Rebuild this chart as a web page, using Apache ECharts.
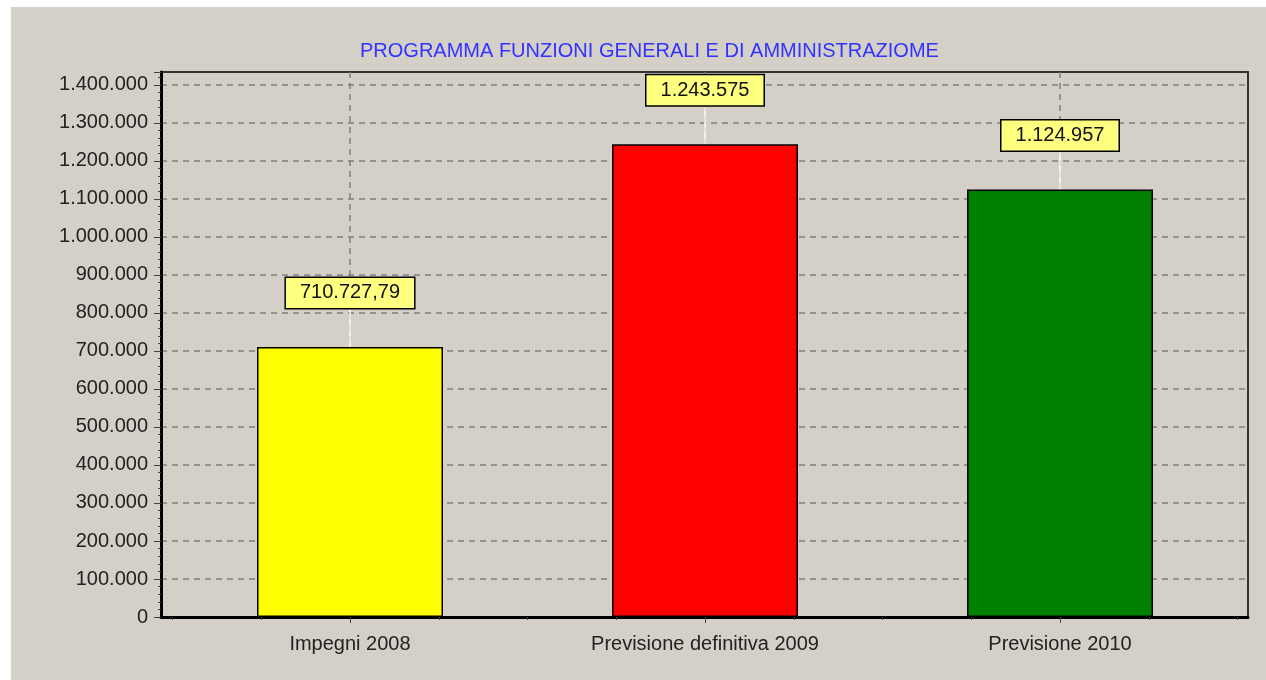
<!DOCTYPE html>
<html>
<head>
<meta charset="utf-8">
<title>Programma funzioni generali</title>
<script src="https://cdn.jsdelivr.net/npm/echarts@6/dist/echarts.min.js"></script>
<style>
  html, body { margin: 0; padding: 0; background: #fff; }
  #chart { width: 1266px; height: 680px; }
</style>
</head>
<body>
<div id="chart"></div>
<script>
// dati
var categories = ['Impegni 2008', 'Previsione definitiva 2009', 'Previsione 2010'];
var values = [710727.79, 1243575, 1124957];
var barColors = ['#ffff00', '#ff0000', '#008000'];
var yMax = 1434000;

// formato italiano 1.234.567,89
function fmtIt(v, decimals) {
  var parts = v.toFixed(decimals).split('.');
  var intPart = parts[0].replace(/\B(?=(\d{3})+(?!\d))/g, '.');
  return parts.length > 1 ? intPart + ',' + parts[1] : intPart;
}
function fmtLabel(v) {
  return Math.round(v) === v ? fmtIt(v, 0) : fmtIt(v, 2);
}

var font = '"Liberation Sans", Arial, sans-serif';
var chart = echarts.init(document.getElementById('chart'));

chart.setOption({
  backgroundColor: '#ffffff',
  animation: false,
  graphic: [{
    type: 'rect', z: -10, silent: true,
    shape: { x: 11, y: 7, width: 1255, height: 673 },
    style: { fill: '#d4d0c8' }
  }],
  title: {
    text: 'PROGRAMMA FUNZIONI GENERALI E DI AMMINISTRAZIOME',
    left: 355, top: 36,
    textStyle: { color: '#3333ff', fontSize: 20, fontWeight: 'normal', fontFamily: font }
  },
  grid: [
    { left: 161, right: 18, top: 72, bottom: 63, show: true, backgroundColor: 'transparent',
      borderColor: '#333', borderWidth: 2 },
    { left: 172.5, right: 28.5, top: 72, bottom: 63 }
  ],
  xAxis: [
    { // linea di base del riquadro
      type: 'value', gridIndex: 0, min: 0, max: 1, position: 'bottom',
      axisLine: { show: true, lineStyle: { color: '#000', width: 3 } },
      axisTick: { show: false }, axisLabel: { show: false }, splitLine: { show: false }
    },
    {
      type: 'category', gridIndex: 1, data: categories, position: 'bottom',
      axisLine: { show: false },
      axisTick: { show: true, alignWithLabel: true, length: 6, lineStyle: { color: '#444', width: 1 } },
      axisLabel: { margin: 17, color: '#222', fontSize: 20, fontFamily: font },
      splitLine: { show: true, alignWithLabel: true,
        lineStyle: { color: '#808080', type: [6, 5], width: 1.5 } }
    },
    { // tacche minori
      type: 'value', gridIndex: 1, min: 0, max: 12, interval: 1, position: 'bottom',
      axisLine: { show: false },
      axisTick: { show: true, length: 3, lineStyle: { color: '#444' } },
      axisLabel: { show: false }, splitLine: { show: false }
    }
  ],
  yAxis: [
    {
      type: 'value', gridIndex: 0, min: 0, max: yMax, interval: 100000,
      axisLine: { show: true, lineStyle: { color: '#000', width: 3 } },
      axisTick: { show: true, length: 7, lineStyle: { color: '#444', width: 1 } },
      minorTick: { show: true, splitNumber: 5, length: 3, lineStyle: { color: '#444' } },
      axisLabel: {
        margin: 13, color: '#222', fontSize: 20, fontFamily: font, showMaxLabel: false,
        formatter: function (v) { return v % 100000 === 0 ? fmtIt(v, 0) : ''; }
      },
      splitLine: { show: true, showMaxLine: false,
        lineStyle: { color: '#808080', type: [6, 5], width: 1.5 } }
    },
    {
      type: 'value', gridIndex: 1, min: 0, max: yMax, show: false
    }
  ],
  series: [{
    type: 'bar',
    xAxisIndex: 1, yAxisIndex: 1,
    barWidth: 186,
    data: values.map(function (v, i) {
      return { value: v, itemStyle: { color: barColors[i] } };
    }),
    itemStyle: { borderColor: '#000', borderWidth: 1.5 },
    label: {
      show: true, position: 'top', distance: 0,
      formatter: function (p) { return fmtLabel(p.value); },
      color: '#111', fontSize: 20, fontFamily: font, lineHeight: 20,
      backgroundColor: '#ffff80', borderColor: '#000', borderWidth: 1.5,
      padding: [5, 14]
    },
    labelLayout: { dy: -39 },
    labelLine: { show: true, lineStyle: { color: '#ffffff', width: 1.5 } }
  }]
});
</script>
</body>
</html>
